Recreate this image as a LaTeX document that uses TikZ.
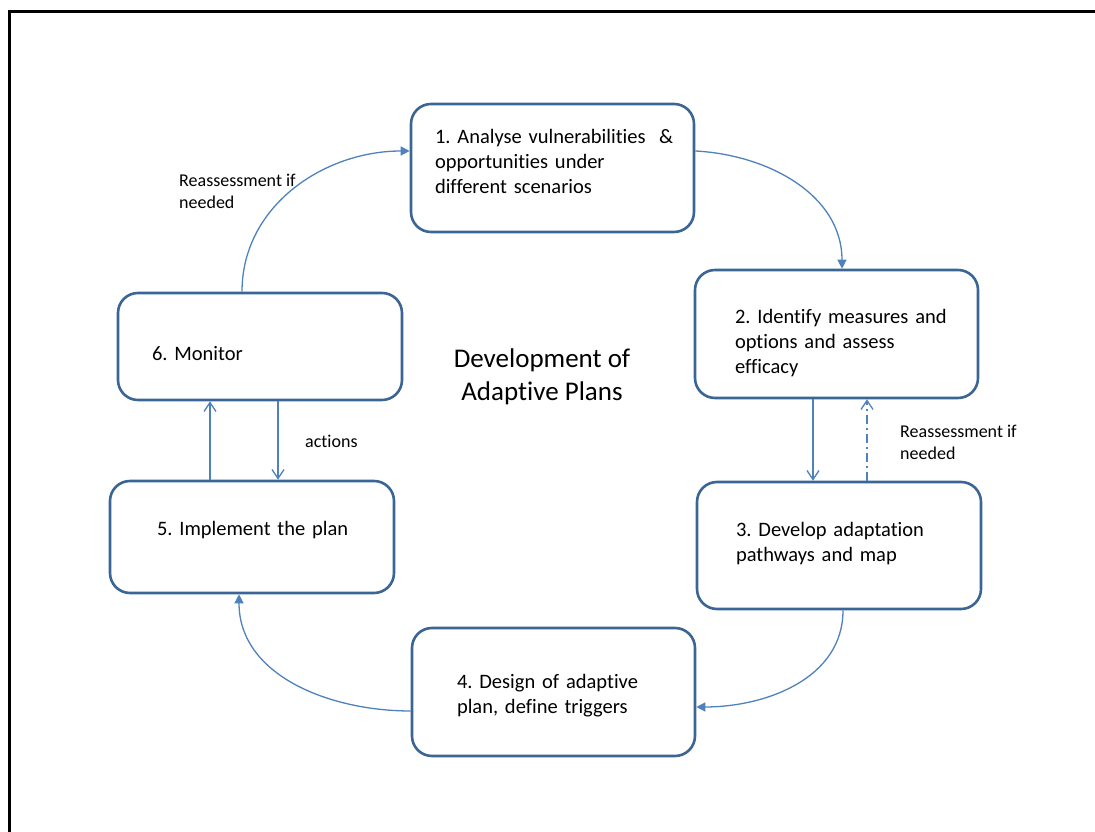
\documentclass[tikz,border=0pt]{standalone}
\usepackage{fontspec}
\setmainfont[Ligatures=NoCommon]{Carlito}
\frenchspacing
\usetikzlibrary{arrows.meta}
\definecolor{khung}{HTML}{3A6595}
\definecolor{muiten}{HTML}{4F81BD}

\begin{document}
\begin{tikzpicture}[x=1pt, y=1pt,
		hop/.style={draw=khung, line width=2.6pt, rounded corners=20pt, inner sep=0pt, align=left, font=\fontsize{20.5}{25}\selectfont},
		cong/.style={draw=muiten, line width=1.3pt, -{Triangle[length=9pt,width=9pt]}},
		thang/.style={draw=muiten, line width=1.3pt, -{Straight Barb[length=9pt,width=12pt]}},
		nhan/.style={align=left, inner sep=0pt, font=\fontsize{18}{22}\selectfont}]
	\useasboundingbox (0,0) rectangle (1095,832);
	
	% Khung ngoài
	\draw[line width=3pt] (9,0) -- (9,820) -- (1095,820);
	
	% Các hộp
	\node[hop, minimum width=283pt, minimum height=128pt, text width=235pt, text height=15pt, text depth=63pt] (phantich) at (552.5,664) {\mbox{1. Analyse vulnerabilities\ \ \&}\\opportunities under\\different scenarios};
	\node[hop, minimum width=283pt, minimum height=128pt, text width=203pt, text height=15pt, text depth=35pt] (bienphap) at (836.5,498) {\mbox{2. Identify measures and}\\options and assess\\efficacy};
	\node[hop, minimum width=284pt, minimum height=127pt, text width=206pt, text height=15pt, text depth=32pt] (lotrinh) at (839,286.5) {3. Develop adaptation\\pathways and map};
	\node[hop, minimum width=283pt, minimum height=128pt, text width=193pt, text height=15pt, text depth=21pt] (thietke) at (553.5,140) {4. Design of adaptive\\plan, define triggers};
	\node[hop, minimum width=284pt, minimum height=112pt, text width=190pt, text height=15pt, text depth=17pt] (thuchien) at (252,295) {\mbox{5. Implement the plan}};
	\node[hop, minimum width=284pt, minimum height=107pt, text width=216pt, text height=29pt, text depth=0pt] (giamsat) at (260,485.5) {6. Monitor};
	
	% Tiêu đề ở giữa
	\node[align=center, font=\fontsize{27}{33}\selectfont] (tieude) at (542,455.5) {Development of\\Adaptive Plans};
	
	% Vòng mũi tên cong
	\draw[cong] ([yshift=17pt]phantich.east) to[out=-3, in=90] ([xshift=5.5pt]bienphap.north);
	\draw[cong] ([xshift=4pt]lotrinh.south) to[out=-90, in=0] ([yshift=-15pt]thietke.east);
	\draw[cong] ([yshift=-19pt]thietke.west) to[out=180, in=-90] ([xshift=-13pt]thuchien.south);
	\draw[cong] ([xshift=-18pt]giamsat.north) to[out=90, in=180] ([yshift=17pt]phantich.west);
	
	% Mũi tên thẳng
	\draw[thang] ([xshift=-23.5pt]bienphap.south) coordinate (a) -- (a |- lotrinh.north);
	\draw[thang, dash pattern=on 9pt off 4pt on 2pt off 4pt] ([xshift=28pt]lotrinh.north) coordinate (b) -- (b |- bienphap.south);
	\draw[thang] ([xshift=-42pt]thuchien.north) coordinate (c) -- (c |- giamsat.south);
	\draw[thang] ([xshift=18pt]giamsat.south) coordinate (d) -- (d |- thuchien.north);
	
	% Nhãn
	\node[nhan, anchor=west] (danhgia1) at (179,641) {Reassessment if\\needed};
	\node[nhan, anchor=west] (danhgia2) at (900,390) {Reassessment if\\needed};
	\node[nhan, anchor=west] (hanhdong) at (305,391) {actions};
\end{tikzpicture}
\end{document}
